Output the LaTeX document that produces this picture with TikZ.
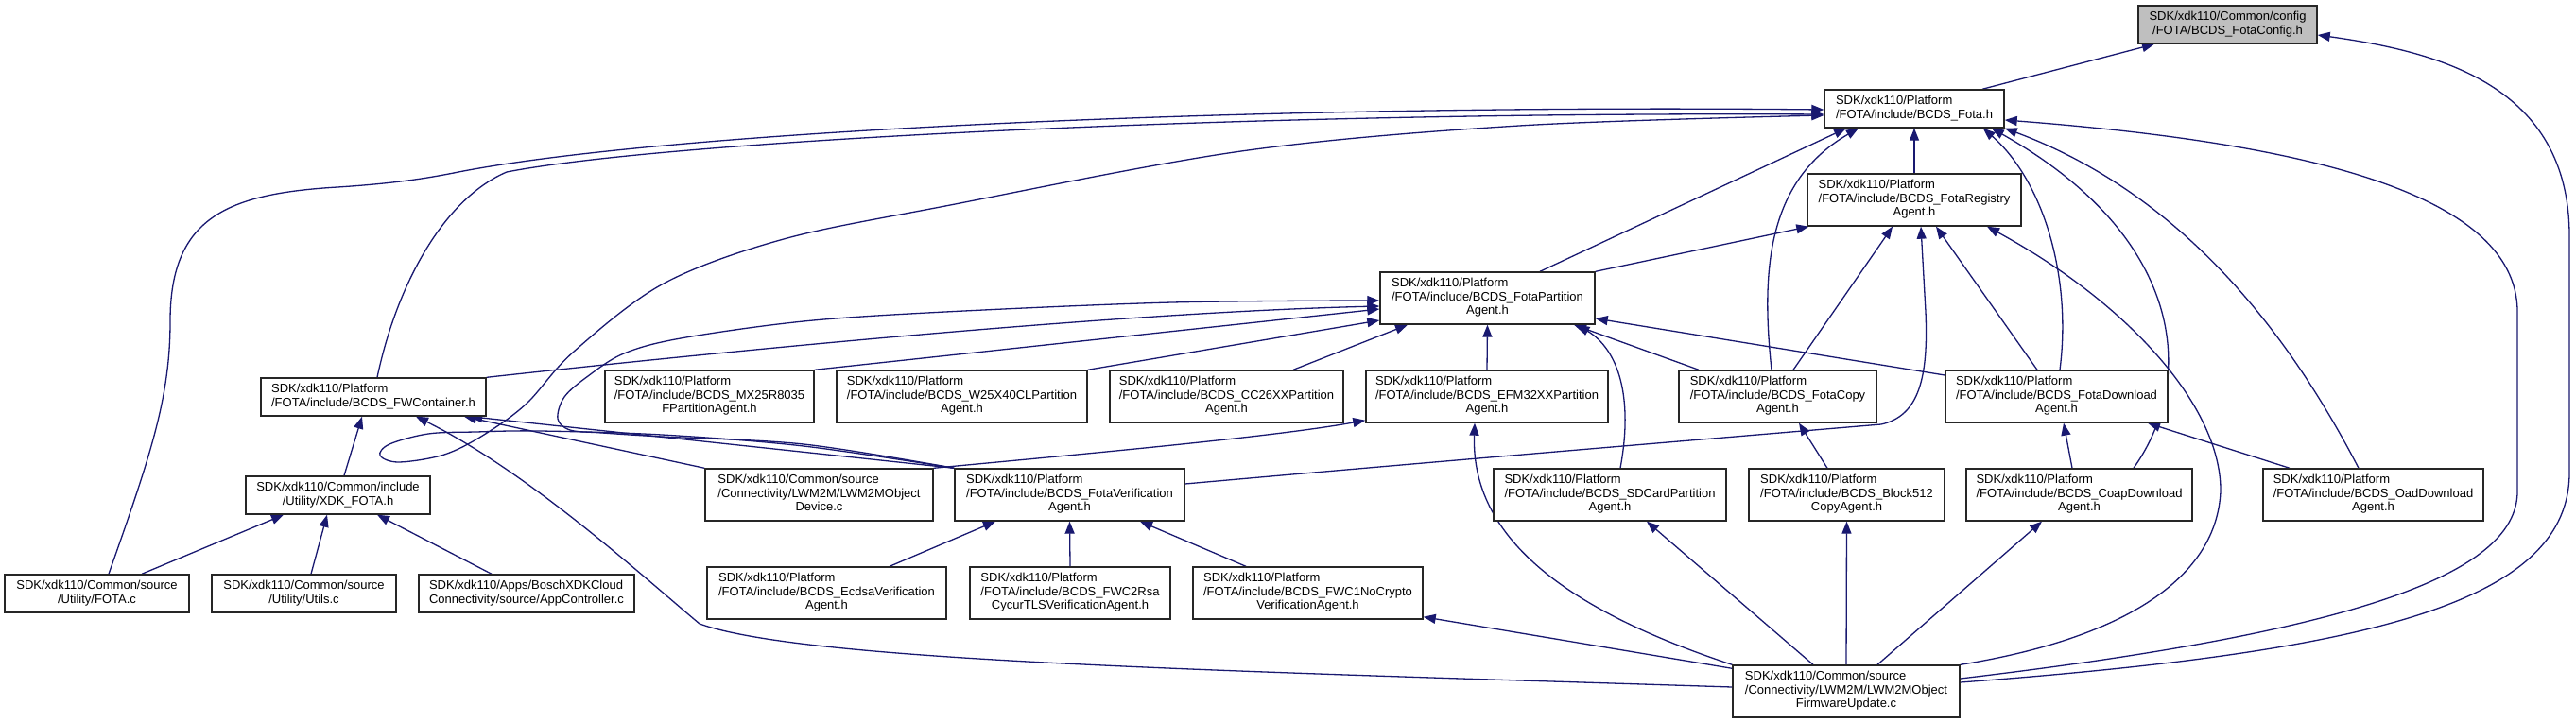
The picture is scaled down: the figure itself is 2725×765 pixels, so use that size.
\documentclass[tikz,border=0pt]{standalone}
\usepackage{fontspec}
\setmainfont{Liberation Sans}
\usetikzlibrary{arrows.meta,calc}
\definecolor{edgeblue}{HTML}{191970}
\definecolor{rootgray}{HTML}{BFBFBF}
\newcommand{\lblthree}[3]{\begin{tabular}{@{}l@{}}#1\\#2\\\multicolumn{1}{@{}c@{}}{#3}\end{tabular}}
\newcommand{\lbltwo}[2]{\begin{tabular}{@{}l@{}}#1\\\multicolumn{1}{@{}c@{}}{#2}\end{tabular}}
\pgfdeclarelayer{bg}
\pgfsetlayers{bg,main}
\tikzset{
  box/.style={draw=black!85, line width=1.4pt, fill=white, inner sep=0pt,
    font=\fontsize{13pt}{14.5pt}\selectfont, anchor=center},
  rootbox/.style={box, fill=rootgray},
  conn/.style={draw=edgeblue, line width=1.3pt, -{Triangle[length=13pt,width=10pt]}},
}
\begin{document}
\begin{tikzpicture}[x=1pt,y=-1pt]
\useasboundingbox (0,0) rectangle (2725,765);

% nodes
\node[rootbox, minimum width=189pt, minimum height=40pt] (config) at (2356.5,26) {\lbltwo{SDK/xdk110/Common/config}{/FOTA/BCDS\_FotaConfig.h}};
\node[box, minimum width=190pt, minimum height=40pt] (fota) at (2025,115) {\lbltwo{SDK/xdk110/Platform}{/FOTA/include/BCDS\_Fota.h}};
\node[box, minimum width=226pt, minimum height=55pt] (reg) at (2025,211.5) {\lblthree{SDK/xdk110/Platform}{/FOTA/include/BCDS\_FotaRegistry}{Agent.h}};
\node[box, minimum width=227pt, minimum height=55pt] (part) at (1573.5,315.5) {\lblthree{SDK/xdk110/Platform}{/FOTA/include/BCDS\_FotaPartition}{Agent.h}};

\node[box, minimum width=238pt, minimum height=40pt] (fwc) at (395,420) {\lbltwo{SDK/xdk110/Platform}{/FOTA/include/BCDS\_FWContainer.h}};
\node[box, minimum width=221pt, minimum height=55pt] (mx) at (750.5,419.5) {\lblthree{SDK/xdk110/Platform}{/FOTA/include/BCDS\_MX25R8035}{FPartitionAgent.h}};
\node[box, minimum width=265pt, minimum height=55pt] (w25) at (1017.5,419.5) {\lblthree{SDK/xdk110/Platform}{/FOTA/include/BCDS\_W25X40CLPartition}{Agent.h}};
\node[box, minimum width=247pt, minimum height=55pt] (cc26) at (1297.5,419.5) {\lblthree{SDK/xdk110/Platform}{/FOTA/include/BCDS\_CC26XXPartition}{Agent.h}};
\node[box, minimum width=256pt, minimum height=55pt] (efm) at (1573,419.5) {\lblthree{SDK/xdk110/Platform}{/FOTA/include/BCDS\_EFM32XXPartition}{Agent.h}};
\node[box, minimum width=209pt, minimum height=55pt] (copy) at (1880.5,419.5) {\lblthree{SDK/xdk110/Platform}{/FOTA/include/BCDS\_FotaCopy}{Agent.h}};
\node[box, minimum width=235pt, minimum height=55pt] (dl) at (2175.5,419.5) {\lblthree{SDK/xdk110/Platform}{/FOTA/include/BCDS\_FotaDownload}{Agent.h}};

\node[box, minimum width=195pt, minimum height=40pt] (xdk) at (357.5,524) {\lbltwo{SDK/xdk110/Common/include}{/Utility/XDK\_FOTA.h}};
\node[box, minimum width=241pt, minimum height=55pt] (dev) at (866.5,523.5) {\lblthree{SDK/xdk110/Common/source}{/Connectivity/LWM2M/LWM2MObject}{Device.c}};
\node[box, minimum width=243pt, minimum height=55pt] (ver) at (1131.5,523.5) {\lblthree{SDK/xdk110/Platform}{/FOTA/include/BCDS\_FotaVerification}{Agent.h}};
\node[box, minimum width=246pt, minimum height=55pt] (sd) at (1703,523.5) {\lblthree{SDK/xdk110/Platform}{/FOTA/include/BCDS\_SDCardPartition}{Agent.h}};
\node[box, minimum width=207pt, minimum height=55pt] (blk) at (1953.5,523.5) {\lblthree{SDK/xdk110/Platform}{/FOTA/include/BCDS\_Block512}{CopyAgent.h}};
\node[box, minimum width=239pt, minimum height=55pt] (coap) at (2199.5,523.5) {\lblthree{SDK/xdk110/Platform}{/FOTA/include/BCDS\_CoapDownload}{Agent.h}};
\node[box, minimum width=233pt, minimum height=55pt] (oad) at (2510.5,523.5) {\lblthree{SDK/xdk110/Platform}{/FOTA/include/BCDS\_OadDownload}{Agent.h}};

\node[box, minimum width=195pt, minimum height=40pt] (fotac) at (102.5,628) {\lbltwo{SDK/xdk110/Common/source}{/Utility/FOTA.c}};
\node[box, minimum width=195pt, minimum height=40pt] (utils) at (321.5,628) {\lbltwo{SDK/xdk110/Common/source}{/Utility/Utils.c}};
\node[box, minimum width=228pt, minimum height=40pt] (app) at (557,628) {\lbltwo{SDK/xdk110/Apps/BoschXDKCloud}{Connectivity/source/AppController.c}};
\node[box, minimum width=253pt, minimum height=55pt] (ecdsa) at (874.5,627.5) {\lblthree{SDK/xdk110/Platform}{/FOTA/include/BCDS\_EcdsaVerification}{Agent.h}};
\node[box, minimum width=212pt, minimum height=55pt] (rsa) at (1132,627.5) {\lblthree{SDK/xdk110/Platform}{/FOTA/include/BCDS\_FWC2Rsa}{CycurTLSVerificationAgent.h}};
\node[box, minimum width=243pt, minimum height=55pt] (nocrypto) at (1383.5,627.5) {\lblthree{SDK/xdk110/Platform}{/FOTA/include/BCDS\_FWC1NoCrypto}{VerificationAgent.h}};

\node[box, minimum width=240pt, minimum height=55pt] (fw) at (1953,731.5) {\lblthree{SDK/xdk110/Common/source}{/Connectivity/LWM2M/LWM2MObject}{FirmwareUpdate.c}};

\begin{pgfonlayer}{bg}
\fill[white] (0,0) rectangle (2725,765);
% to config
\draw[conn] ([xshift=72pt]fota.north) -- ([xshift=-77.5pt]config.south);
\draw[conn] ([yshift=9.5pt]fw.east) .. controls (2500,690) and (2718,640) .. (2718,500) -- (2718,250) .. controls (2718,90) and (2580,55) .. ([yshift=-11pt]config.east);
% to fota
\draw[conn] ([yshift=13.5pt]fw.east) .. controls (2480,670) and (2663,610) .. (2663,520) -- (2663,330) .. controls (2663,200) and (2420,150) .. ([yshift=-12pt]fota.east);
\draw[conn] (reg.north) -- (fota.south);
\draw[conn] ([xshift=55.5pt]part.north) -- ([xshift=-72pt]fota.south);
\draw[conn] ([xshift=12.5pt]fotac.north) .. controls (160,480) and (180,420) .. (180,340) .. controls (180,230) and (240,205) .. (357,198) .. controls (420,194) and (455,188) .. (485,182) .. controls (700,140) and (1300,110) .. ([yshift=-1pt]fota.west);
\draw[conn] ([xshift=4pt]fwc.north) .. controls (420,300) and (470,210) .. (536,182) .. controls (700,150) and (1300,118) .. ([yshift=-6pt]fota.west);
\draw[conn] plot[smooth, tension=0.55] coordinates {(ver.north west) (850,472) (700,460) (570,456) (503,457) (453,459) (412,470) (402,482) (422,489) (470,481) (512,460) (557,427) (607,372) (702,300) (829,253) (1000,218) (1313,160) (1607,133) ([yshift=-7pt]fota.west)};
\draw[conn] ([xshift=-6.5pt]copy.north) .. controls (1862,280) and (1872,190) .. ([xshift=-59pt]fota.south);
\draw[conn] ([xshift=3.5pt]dl.north) .. controls (2192,290) and (2160,190) .. ([xshift=-23pt]fota.south east);
\draw[conn] ([xshift=57.5pt]coap.north) .. controls (2325,400) and (2310,250) .. ([xshift=-14pt]fota.south east);
\draw[conn] ([xshift=-15.5pt]oad.north) .. controls (2430,370) and (2320,210) .. (fota.south east);
% to registry
\draw[conn] (part.north east) -- ([xshift=2pt]reg.south west);
\draw[conn] ([xshift=16.5pt]copy.north) -- ([xshift=-23pt]reg.south);
\draw[conn] ([xshift=-20.5pt]dl.north) -- ([xshift=23pt]reg.south);
\draw[conn] ([yshift=11.5pt]ver.east) .. controls (1500,490) and (1800,465) .. (1990,449) .. controls (2030,440) and (2040,400) .. (2037,330) -- ([xshift=7pt]reg.south);
\draw[conn] (fw.north east) .. controls (2250,675) and (2345,610) .. (2349,520) .. controls (2350,430) and (2250,320) .. ([xshift=77pt]reg.south);
% to partition
\draw[conn] plot[smooth, tension=0.55] coordinates {(ver.north west) (850,470) (700,462) (637,458) (603,455) (590,443) (597,420) (622,398) (660,374) (720,358) (850,340) (1000,330) (1240,320) ([yshift=-2.5pt]part.west)};
\draw[conn] (fwc.north east) .. controls (800,368) and (1200,330) .. ([yshift=-8.5pt]part.west);
\draw[conn] (mx.north east) -- ([yshift=-11.5pt]part.west);
\draw[conn] (w25.north east) -- ([yshift=-23.5pt]part.west);
\draw[conn] ([xshift=70.5pt]cc26.north) -- ([xshift=-84.5pt]part.south);
\draw[conn] (efm.north) -- (part.south);
\draw[conn] ([xshift=-83.5pt]copy.north) -- ([xshift=91.5pt]part.south);
\draw[conn] ([xshift=11pt]sd.north) .. controls (1728,420) and (1712,370) .. ([xshift=95pt]part.south);
\draw[conn] ([yshift=22.5pt]dl.west) -- ([yshift=-21.5pt]part.east);
% second level
\draw[conn] ([xshift=-20.5pt]blk.north) -- ([xshift=22.5pt]copy.south);
\draw[conn] ([xshift=-7.5pt]coap.north) -- ([xshift=7.5pt]dl.south);
\draw[conn] ([xshift=-88.5pt]oad.north) -- ([xshift=96.5pt]dl.south);
\draw[conn] ([xshift=6.5pt]xdk.north) -- ([xshift=-12pt]fwc.south);
\draw[conn] ([yshift=4.5pt]fw.west) .. controls (1300,710) and (850,700) .. (740,660) .. controls (680,610) and (560,500) .. ([xshift=45pt]fwc.south);
\draw[conn] (dev.north west) -- ([xshift=96pt]fwc.south);
\draw[conn] (ver.north west) -- ([xshift=102pt]fwc.south);
\draw[conn] (dev.north east) .. controls (1150,480) and (1350,462) .. ([yshift=3pt]efm.south west);
\draw[conn] (fw.north west) .. controls (1640,640) and (1556,560) .. ([xshift=-13pt]efm.south);
\draw[conn] ([yshift=-4pt]fw.north west) -- ([yshift=3pt]nocrypto.south east);
\draw[conn] ([xshift=-35pt]fw.north) -- ([xshift=39pt]sd.south);
\draw[conn] (fw.north) -- (blk.south);
\draw[conn] ([xshift=33pt]fw.north) -- ([xshift=-39.5pt]coap.south);
\draw[conn] ([xshift=66.5pt]ecdsa.north) -- ([xshift=-78.5pt]ver.south);
\draw[conn] (rsa.north) -- (ver.south);
\draw[conn] ([xshift=-65.5pt]nocrypto.north) -- ([xshift=74.5pt]ver.south);
\draw[conn] ([xshift=47.5pt]fotac.north) -- ([xshift=-57.5pt]xdk.south);
\draw[conn] ([xshift=7.5pt]utils.north) -- ([xshift=-11.5pt]xdk.south);
\draw[conn] ([xshift=-37pt]app.north) -- ([xshift=41.5pt]xdk.south);
\end{pgfonlayer}
\end{tikzpicture}
\end{document}
